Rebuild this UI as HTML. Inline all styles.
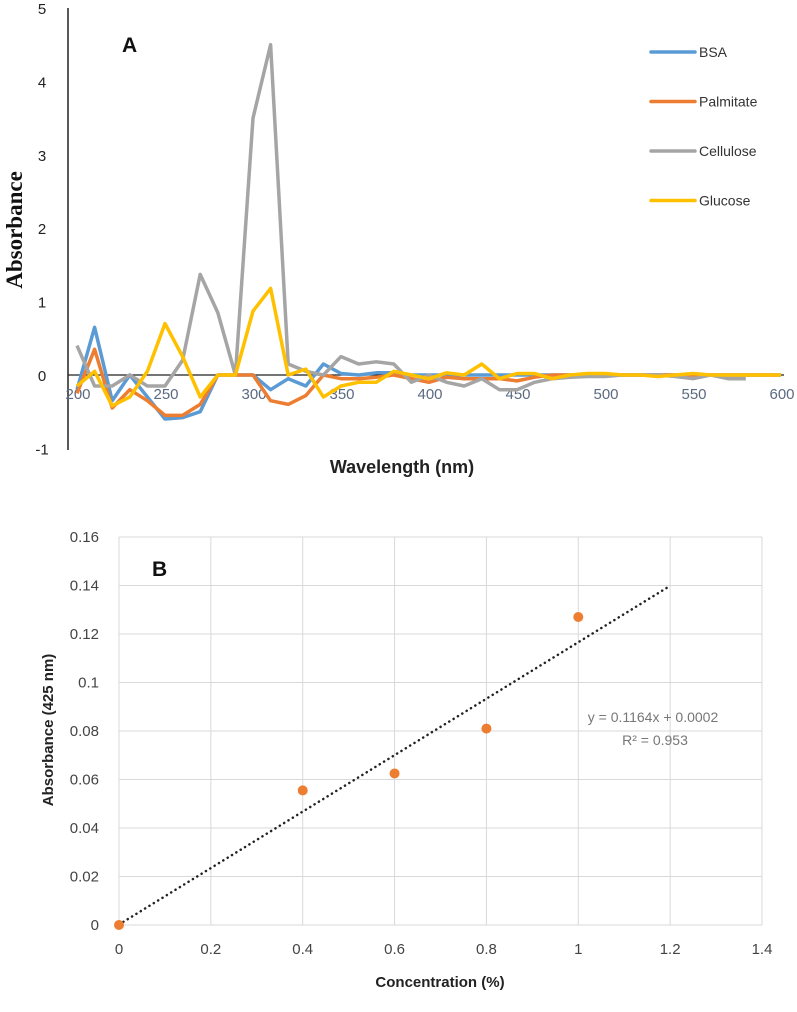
<!DOCTYPE html>
<html><head><meta charset="utf-8"><style>
body{margin:0;background:#fff;}
svg{display:block;font-family:"Liberation Sans",sans-serif;}
</style></head><body>
<svg width="797" height="1012" viewBox="0 0 797 1012">
<g id="chartA"></g>
<g id="chartB"></g>
</svg>
<script>
const wavelengths = [200,210,220,230,240,250,260,270,280,290,300,310,320,330,340,350,360,370,380,390,400,410,420,430,440,450,460,470,480,490,500,510,520,530,540,550,560,570,580,590,600];
const bsa = [-0.2,0.65,-0.35,0,-0.3,-0.6,-0.58,-0.5,0,0,0,-0.2,-0.05,-0.15,0.15,0.02,0,0.03,0.03,0,0,0,0,0,0,0,0,0,0,0,0,0,0,0,0,0,0,0,0,0,0];
const palmitate = [-0.25,0.35,-0.45,-0.2,-0.35,-0.55,-0.55,-0.4,0,0,0,-0.35,-0.4,-0.28,0,-0.05,-0.05,-0.03,0,-0.05,-0.1,-0.03,-0.05,-0.05,-0.05,-0.08,-0.03,0,0,0,0,0,0,0,0,0,0,0,0,0,0];
const cellulose = [0.4,-0.15,-0.15,0,-0.15,-0.15,0.2,1.37,0.85,0,3.5,4.5,0.15,0.05,0,0.25,0.15,0.18,0.15,-0.1,0,-0.1,-0.15,-0.05,-0.2,-0.2,-0.1,-0.05,-0.03,-0.02,-0.02,0,0,0,-0.02,-0.05,0,-0.05,-0.05];
const glucose = [-0.15,0.05,-0.42,-0.3,0.05,0.7,0.25,-0.3,0,0,0.87,1.18,0,0.08,-0.3,-0.15,-0.1,-0.1,0.05,0,-0.05,0.03,0,0.15,-0.05,0.02,0.02,-0.05,0,0.02,0.02,0,0,-0.02,0,0.02,0,0,0,0,0];
const seriesNames = ["BSA","Palmitate","Cellulose","Glucose"];
const seriesColors = ["#5b9bd5","#ed7d31","#a5a5a5","#ffc000"];
const yTicksA = [-1,0,1,2,3,4,5];
const xTicksA = [200,250,300,350,400,450,500,550,600];

const concentration = [0,0.4,0.6,0.8,1.0];
const absorbance425 = [0,0.0555,0.0625,0.081,0.127];
const slope = 0.1164, intercept = 0.0002, trendEnd = 1.2;
const xTicksB = [0,0.2,0.4,0.6,0.8,1,1.2,1.4];
const yTicksB = [0,0.02,0.04,0.06,0.08,0.1,0.12,0.14,0.16];

const NS="http://www.w3.org/2000/svg";
function mk(parent,tag,attrs,text){const e=document.createElementNS(NS,tag);for(const k in attrs)e.setAttribute(k,attrs[k]);if(text!==undefined)e.textContent=text;parent.appendChild(e);return e;}

// Chart A
const A=document.getElementById('chartA');
const xA=w=>77+(w-200)*1.76;
const yA=v=>375-v*73.4;
let e;
e=mk(A,'line',{x1:68,y1:8,x2:68,y2:450,stroke:'#222','stroke-width':1.5});


e=mk(A,'line',{x1:68,y1:yA(0),x2:xA(600)+3,y2:yA(0),stroke:'#222','stroke-width':1.2});


yTicksA.forEach(t=>{
  e=mk(A,'text',{x:42,y:yA(t)+6,'text-anchor':'middle','font-size':15,fill:'#222'},String(t));
  
  
});
xTicksA.forEach(t=>{
  e=mk(A,'text',{x:xA(t)+1,y:yA(0)+24,'text-anchor':'middle','font-size':15,fill:'#5a6a80'},String(t));
  
  
});
[bsa,palmitate,cellulose,glucose].forEach((arr,i)=>{
  const pts=arr.map((v,j)=>xA(wavelengths[j]).toFixed(1)+','+yA(v).toFixed(1)).join(' ');
  e=mk(A,'polyline',{points:pts,fill:'none',stroke:seriesColors[i],'stroke-width':3.5,'stroke-linejoin':'round'});
  
  
  const ly=52+i*49.5;
  e=mk(A,'line',{x1:651,y1:ly,x2:695,y2:ly,stroke:seriesColors[i],'stroke-width':3.5,'stroke-linecap':'round'});
  
  
  e=mk(A,'text',{x:699,y:ly+5,'font-size':14,fill:'#333'},seriesNames[i]);
  
  
});
e=mk(A,'text',{x:122,y:52,'font-size':21,'font-weight':'bold',fill:'#111'},'A');


e=mk(A,'text',{x:0,y:0,transform:'translate(22,230) rotate(-90)','text-anchor':'middle','font-size':23,'font-weight':'bold','font-family':'Liberation Serif, serif',fill:'#111'},'Absorbance');


e=mk(A,'text',{x:402,y:473,'text-anchor':'middle','font-size':18,'font-weight':'bold',fill:'#222'},'Wavelength (nm)');



// Chart B
const B=document.getElementById('chartB');
const xB=v=>119+v/1.4*643;
const yB=v=>925-v/0.16*388;
yTicksB.forEach(t=>{
  e=mk(B,'line',{x1:119,y1:yB(t),x2:762,y2:yB(t),stroke:'#d9d9d9','stroke-width':1});
  
  
  e=mk(B,'text',{x:99,y:yB(t)+5,'text-anchor':'end','font-size':15,fill:'#444'},String(t));
  
  
});
xTicksB.forEach(t=>{
  e=mk(B,'line',{x1:xB(t),y1:537,x2:xB(t),y2:925,stroke:'#d9d9d9','stroke-width':1});
  
  
  e=mk(B,'text',{x:xB(t),y:954,'text-anchor':'middle','font-size':15,fill:'#444'},String(t));
  
  
});
e=mk(B,'line',{x1:xB(0),y1:yB(intercept),x2:xB(trendEnd),y2:yB(slope*trendEnd+intercept),stroke:'#222','stroke-width':2.5,'stroke-dasharray':'0.1 5','stroke-linecap':'round'});


concentration.forEach((c,i)=>{
  e=mk(B,'circle',{cx:xB(c),cy:yB(absorbance425[i]),r:5,fill:'#ed7d31'});
  
  
});
e=mk(B,'text',{x:653,y:722,'text-anchor':'middle','font-size':14,fill:'#777'},'y = 0.1164x + 0.0002');


e=mk(B,'text',{x:655,y:745,'text-anchor':'middle','font-size':14,fill:'#777'},'R² = 0.953');


e=mk(B,'text',{x:152,y:576,'font-size':21,'font-weight':'bold',fill:'#111'},'B');


e=mk(B,'text',{x:0,y:0,transform:'translate(53,730) rotate(-90)','text-anchor':'middle','font-size':15,'font-weight':'bold',fill:'#222'},'Absorbance  (425 nm)');


e=mk(B,'text',{x:440,y:987,'text-anchor':'middle','font-size':15,'font-weight':'bold',fill:'#222'},'Concentration (%)');


</script>
</body></html>
